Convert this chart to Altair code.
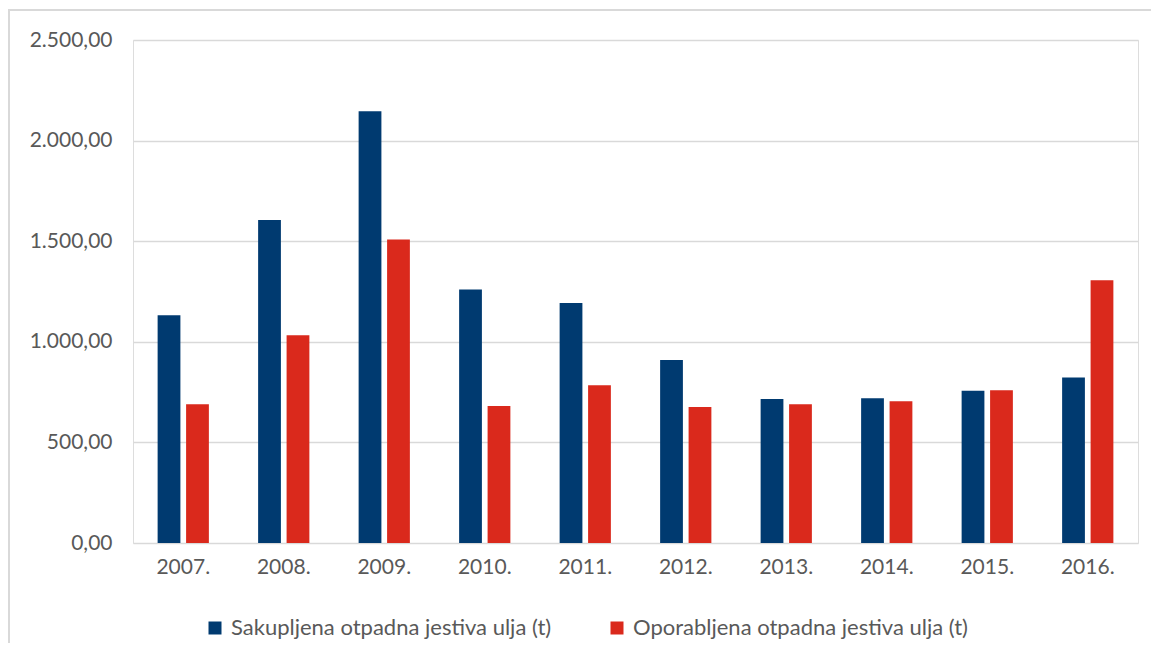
import altair as alt
import pandas as pd

years = ["2007.", "2008.", "2009.", "2010.", "2011.", "2012.", "2013.", "2014.", "2015.", "2016."]
series_names = ["Sakupljena otpadna jestiva ulja (t)", "Oporabljena otpadna jestiva ulja (t)"]
sakupljena = [1132, 1605, 2146, 1260, 1193, 909, 716, 719, 757, 823]
oporabljena = [689, 1032, 1508, 681, 784, 676, 689, 704, 759, 1306]
y_ticks = [0, 500, 1000, 1500, 2000, 2500]
colors = ["#003a70", "#da291c"]

rows = []
for i, y in enumerate(years):
    rows.append({"year": y, "series": series_names[0], "value": sakupljena[i]})
    rows.append({"year": y, "series": series_names[1], "value": oporabljena[i]})
df = pd.DataFrame(rows)

FONT = "Lato"
TXT = "#595959"

border = alt.Chart(pd.DataFrame({"a": [0]})).mark_rect(
    fill="transparent", stroke="#d9d9d9", strokeWidth=2
).encode(
    x=alt.value(-124), x2=alt.value(1100), y=alt.value(-30), y2=alt.value(700)
)

bars = alt.Chart(df).mark_bar().encode(
    x=alt.X("year:N", sort=years, title=None,
            scale=alt.Scale(paddingInner=0.49, paddingOuter=0.245),
            axis=alt.Axis(labelAngle=0, ticks=False, domain=False, labelPadding=13,
                          labelFont=FONT, labelFontSize=21, labelColor=TXT, grid=False)),
    xOffset=alt.XOffset("series:N", sort=series_names,
                        scale=alt.Scale(paddingInner=0.2, paddingOuter=0)),
    y=alt.Y("value:Q", title=None,
            scale=alt.Scale(domain=[0, 2500], nice=False),
            axis=alt.Axis(values=y_ticks, format=",.2f", ticks=False, domain=False,
                          labelPadding=21, labelFont=FONT, labelFontSize=21,
                          labelColor=TXT, gridColor="#d9d9d9", gridWidth=1.5)),
    color=alt.Color("series:N", sort=series_names,
                    scale=alt.Scale(domain=series_names, range=colors),
                    legend=alt.Legend(orient="none", legendX=71, legendY=577,
                                      direction="horizontal", title=None,
                                      symbolType="square", symbolSize=169,
                                      symbolStrokeWidth=0, labelOffset=5,
                                      columnPadding=54,
                                      labelFont=FONT, labelFontSize=22,
                                      labelColor=TXT, labelLimit=500)),
)

chart = alt.layer(border, bars).properties(
    width=1005, height=503,
    autosize=alt.AutoSizeParams(type="none"),
    padding={"left": 125, "top": 32, "right": 13, "bottom": 100},
).configure_view(stroke=None).configure(
    locale={"number": {"decimal": ",", "thousands": ".", "grouping": [3], "currency": ["", ""]}}
)

chart.save("out.html", embed_options={"renderer": "svg", "actions": False})
